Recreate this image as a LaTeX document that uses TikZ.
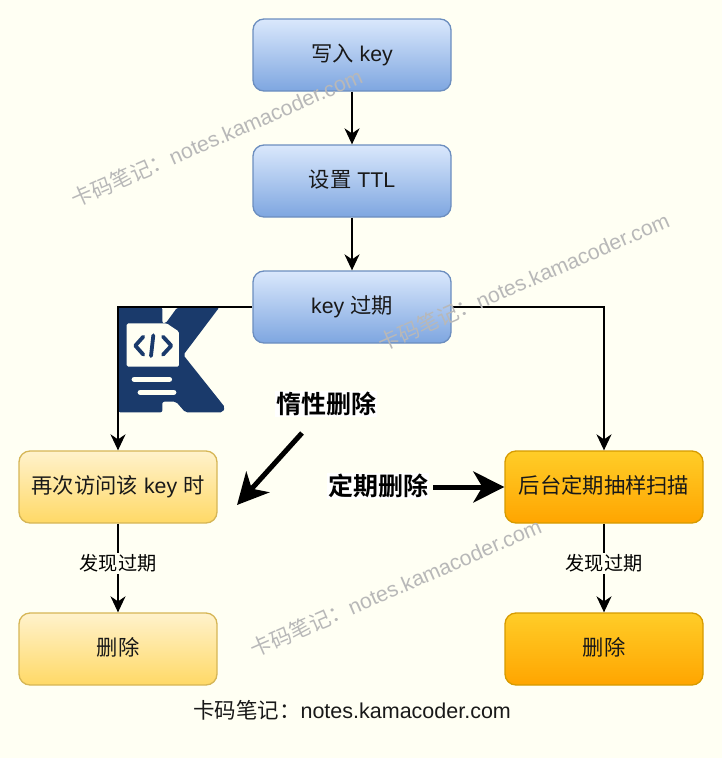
\documentclass[tikz,border=0pt]{standalone}
\usepackage{fontspec}
\setmainfont{Liberation Sans}
\newfontfamily\cjk{Noto Sans CJK SC}
\newfontfamily\cjkb{Noto Sans CJK SC Bold}
\usetikzlibrary{arrows.meta,shadings}
\definecolor{bgc}{HTML}{FFFFF3}
\definecolor{logoc}{HTML}{1A3A6B}
\definecolor{markc}{HTML}{B8B8B8}
\tikzset{
  x=1pt,y=-1pt,
  boxbase/.style={rounded corners=11pt,line width=1.3pt,minimum width=198pt,minimum height=72pt,inner sep=0pt,text height=18pt,text depth=6pt,font=\fontsize{21.3}{25}\selectfont,text=black!90},
  bluebox/.style={boxbase,draw=HTMLblueS,top color=HTMLblueT,bottom color=HTMLblueB},
  yellowbox/.style={boxbase,draw=HTMLyelS,top color=HTMLyelT,bottom color=HTMLyelB},
  orangebox/.style={boxbase,draw=HTMLoraS,top color=HTMLoraT,bottom color=HTMLoraB},
  conn/.style={draw=black,line width=1.6pt,-{Stealth[length=16pt,width=15pt,inset=5pt]}},
  heavy/.style={draw=black,line width=5pt,-{Stealth[length=31pt,width=31pt,inset=9pt]}},
  elabel/.style={fill=bgc,inner sep=2pt,font=\fontsize{19.2}{23}\selectfont\cjk},
  biglabel/.style={fill=white,inner sep=1pt,font=\fontsize{25}{29}\selectfont\cjkb},
  watermark/.style={text=markc,rotate=23.6,inner sep=0pt,font=\fontsize{21.3}{25}\selectfont},
  footer/.style={inner sep=0pt,font=\fontsize{21.5}{25}\selectfont,text=black!90}
}
\definecolor{HTMLblueS}{HTML}{6C8EBF}\definecolor{HTMLblueT}{HTML}{DAE8FC}\definecolor{HTMLblueB}{HTML}{7EA6E0}
\definecolor{HTMLyelS}{HTML}{D6B656}\definecolor{HTMLyelT}{HTML}{FFF2CC}\definecolor{HTMLyelB}{HTML}{FFD966}
\definecolor{HTMLoraS}{HTML}{D79B00}\definecolor{HTMLoraT}{HTML}{FFCD28}\definecolor{HTMLoraB}{HTML}{FFA500}
\begin{document}
\begin{tikzpicture}
\useasboundingbox (0,0) rectangle (722,758);
\fill[bgc] (0,0) rectangle (722,758);
% logo
\begin{scope}[shift={(100,290)},x=0.3333pt,y=-0.3333pt]
\fill[logoc,rounded corners=2pt] (55,52) -- (187,52) -- (187,100) -- (197,100) -- (232,52) -- (358,52) -- (250,195) -- (375,352) -- (368,367) -- (256,367) -- (228,335) -- (187,335) -- (187,367) -- (55,367) -- cycle;
\fill[bgc,rounded corners=1.5pt] (80,100) -- (200,100) -- (237,125) -- (237,230) -- (80,230) -- cycle;
\draw[bgc,line width=5.5pt,line cap=round] (103,268) -- (208,268) (121,307) -- (221,307);
\draw[logoc,line width=3.8pt,line cap=round,line join=round] (130,140) -- (106,167) -- (130,194) (189,140) -- (214,167) -- (189,194);
\draw[logoc,line width=3.8pt,line cap=round] (160,136) -- (153,198);
\end{scope}
% nodes
\node[bluebox] (write) at (352,55) {{\cjk 写入} key};
\node[bluebox] (ttl) at (352,181) {{\cjk 设置} TTL};
\node[bluebox] (exp) at (352,307) {key {\cjk 过期}};
\node[yellowbox] (visit) at (118,487) {{\cjk 再次访问该} key {\cjk 时}};
\node[orangebox] (scan) at (604,487) {\cjk 后台定期抽样扫描};
\node[yellowbox] (delL) at (118,649) {\cjk 删除};
\node[orangebox] (delR) at (604,649) {\cjk 删除};
% connectors
\draw[conn] (write) -- (ttl);
\draw[conn] (ttl) -- (exp);
\draw[conn] (exp.west) -| (visit.north);
\draw[conn] (exp.east) -| (scan.north);
\draw[conn] (visit) -- node[elabel,pos=0.45]{发现过期} (delL);
\draw[conn] (scan) -- node[elabel,pos=0.45]{发现过期} (delR);
% free arrows
\node[biglabel] (lazy) at (326,404) {惰性删除};
\node[biglabel] (timed) at (378,486) {定期删除};
\coordinate (lazyS) at (302,433);
\coordinate (lazyE) at (237,505);
\coordinate (timedS) at (433,487);
\draw[heavy] (lazyS) -- (lazyE);
\draw[heavy] (timedS) -- (scan.west);
% watermarks
\node[watermark] (m1) at (216.5,137.5) {{\cjk 卡码笔记：}notes.kamacoder.com};
\node[watermark] (m2) at (523.5,281.5) {{\cjk 卡码笔记：}notes.kamacoder.com};
\node[watermark] (m3) at (395.5,587.5) {{\cjk 卡码笔记：}notes.kamacoder.com};
\node[footer] (foot) at (352,710.5) {{\cjk 卡码笔记：}notes.kamacoder.com};
\end{tikzpicture}
\end{document}
